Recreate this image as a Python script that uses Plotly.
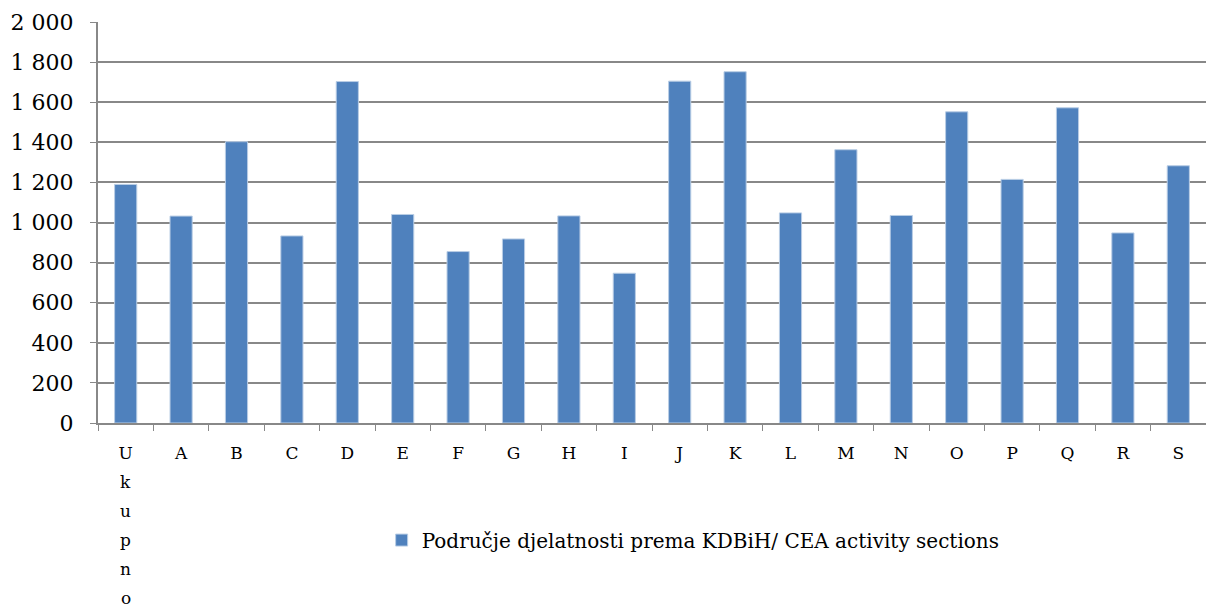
import plotly.graph_objects as go

categories = ["Ukupno", "A", "B", "C", "D", "E", "F", "G", "H", "I",
              "J", "K", "L", "M", "N", "O", "P", "Q", "R", "S"]
values = [1190, 1032, 1403, 933, 1703, 1040, 855, 918, 1033, 747,
          1705, 1752, 1048, 1363, 1035, 1552, 1215, 1572, 948, 1283]
series_name = "Područje djelatnosti prema KDBiH/ CEA activity sections"

# first category label is written vertically, one letter per line
first_letters = list(categories[0])
tick_labels = [first_letters[0]] + categories[1:]

font_family = "DejaVu Serif, Liberation Serif, serif"

fig = go.Figure()
fig.add_trace(go.Bar(
    x=categories, y=values, name=series_name,
    marker=dict(color="#4F81BD", line=dict(color="#B9CDE5", width=1)),
    showlegend=True,
))

for i, letter in enumerate(first_letters[1:], start=1):
    fig.add_annotation(
        x=categories[0], xref="x", y=0, yref="paper",
        text=letter, showarrow=False, yanchor="middle",
        yshift=-(30 + 29 * i),
        font=dict(size=17, family=font_family, color="black"),
    )

fig.update_layout(
    width=1206, height=608,
    margin=dict(l=98, r=0, t=22, b=185, autoexpand=False),
    paper_bgcolor="white", plot_bgcolor="white",
    bargap=0.6,
    separators=", ",
    font=dict(family=font_family, color="black"),
    legend=dict(orientation="h", x=0.256, y=-0.292, xanchor="left", yanchor="middle",
                font=dict(size=20, family=font_family), itemwidth=30),
    xaxis=dict(
        tickmode="array", tickvals=categories, ticktext=tick_labels,
        tickson="boundaries", ticks="outside", ticklen=6, tickcolor="#888888",
        showline=True, linecolor="#888888", linewidth=2,
        tickfont=dict(size=17, family=font_family),
        ticklabelstandoff=14,
        showgrid=False, automargin=False,
    ),
    yaxis=dict(
        range=[0, 2000], dtick=200, tickformat=",d",
        ticks="outside", ticklen=6, tickcolor="#888888",
        showline=True, linecolor="#888888", linewidth=2,
        gridcolor="#888888", gridwidth=2,
        tickfont=dict(size=22, family=font_family),
        ticklabelstandoff=12, zeroline=False, automargin=False,
    ),
)

fig.write_html(
    "out.html",
    config={"displayModeBar": False},
    post_script="document.body.style.margin='0';document.body.style.overflow='hidden';",
)
